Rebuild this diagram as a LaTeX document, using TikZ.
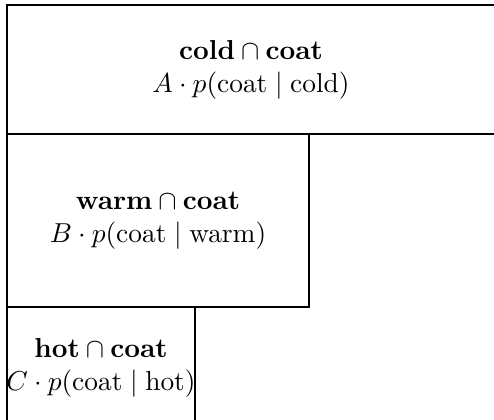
\documentclass[tikz,border=0pt]{standalone}
\usepackage{amsmath}
\begin{document}
\begin{tikzpicture}[x=0.365pt,y=-0.365pt,
  cellbox/.style={draw=black,line width=0.5pt},
  celltext/.style={align=center,inner sep=0pt}]
\useasboundingbox (0,0) rectangle (494,420);
\clip (0,0) rectangle (494,420);
\draw[cellbox] (7,5) rectangle (495,134);
\draw[cellbox] (7,134) rectangle (309,307);
\draw[cellbox] (7,307) rectangle (195,429);
\node[celltext] (cold) at (251,69.5) {$\mathbf{cold}\cap\mathbf{coat}$\\$A\cdot p(\text{coat}\mid\text{cold})$};
\node[celltext] (warm) at (158,220.5) {$\mathbf{warm}\cap\mathbf{coat}$\\$B\cdot p(\text{coat}\mid\text{warm})$};
\node[celltext] (hot) at (101,368) {$\mathbf{hot}\cap\mathbf{coat}$\\$C\cdot p(\text{coat}\mid\text{hot})$};
\end{tikzpicture}
\end{document}
